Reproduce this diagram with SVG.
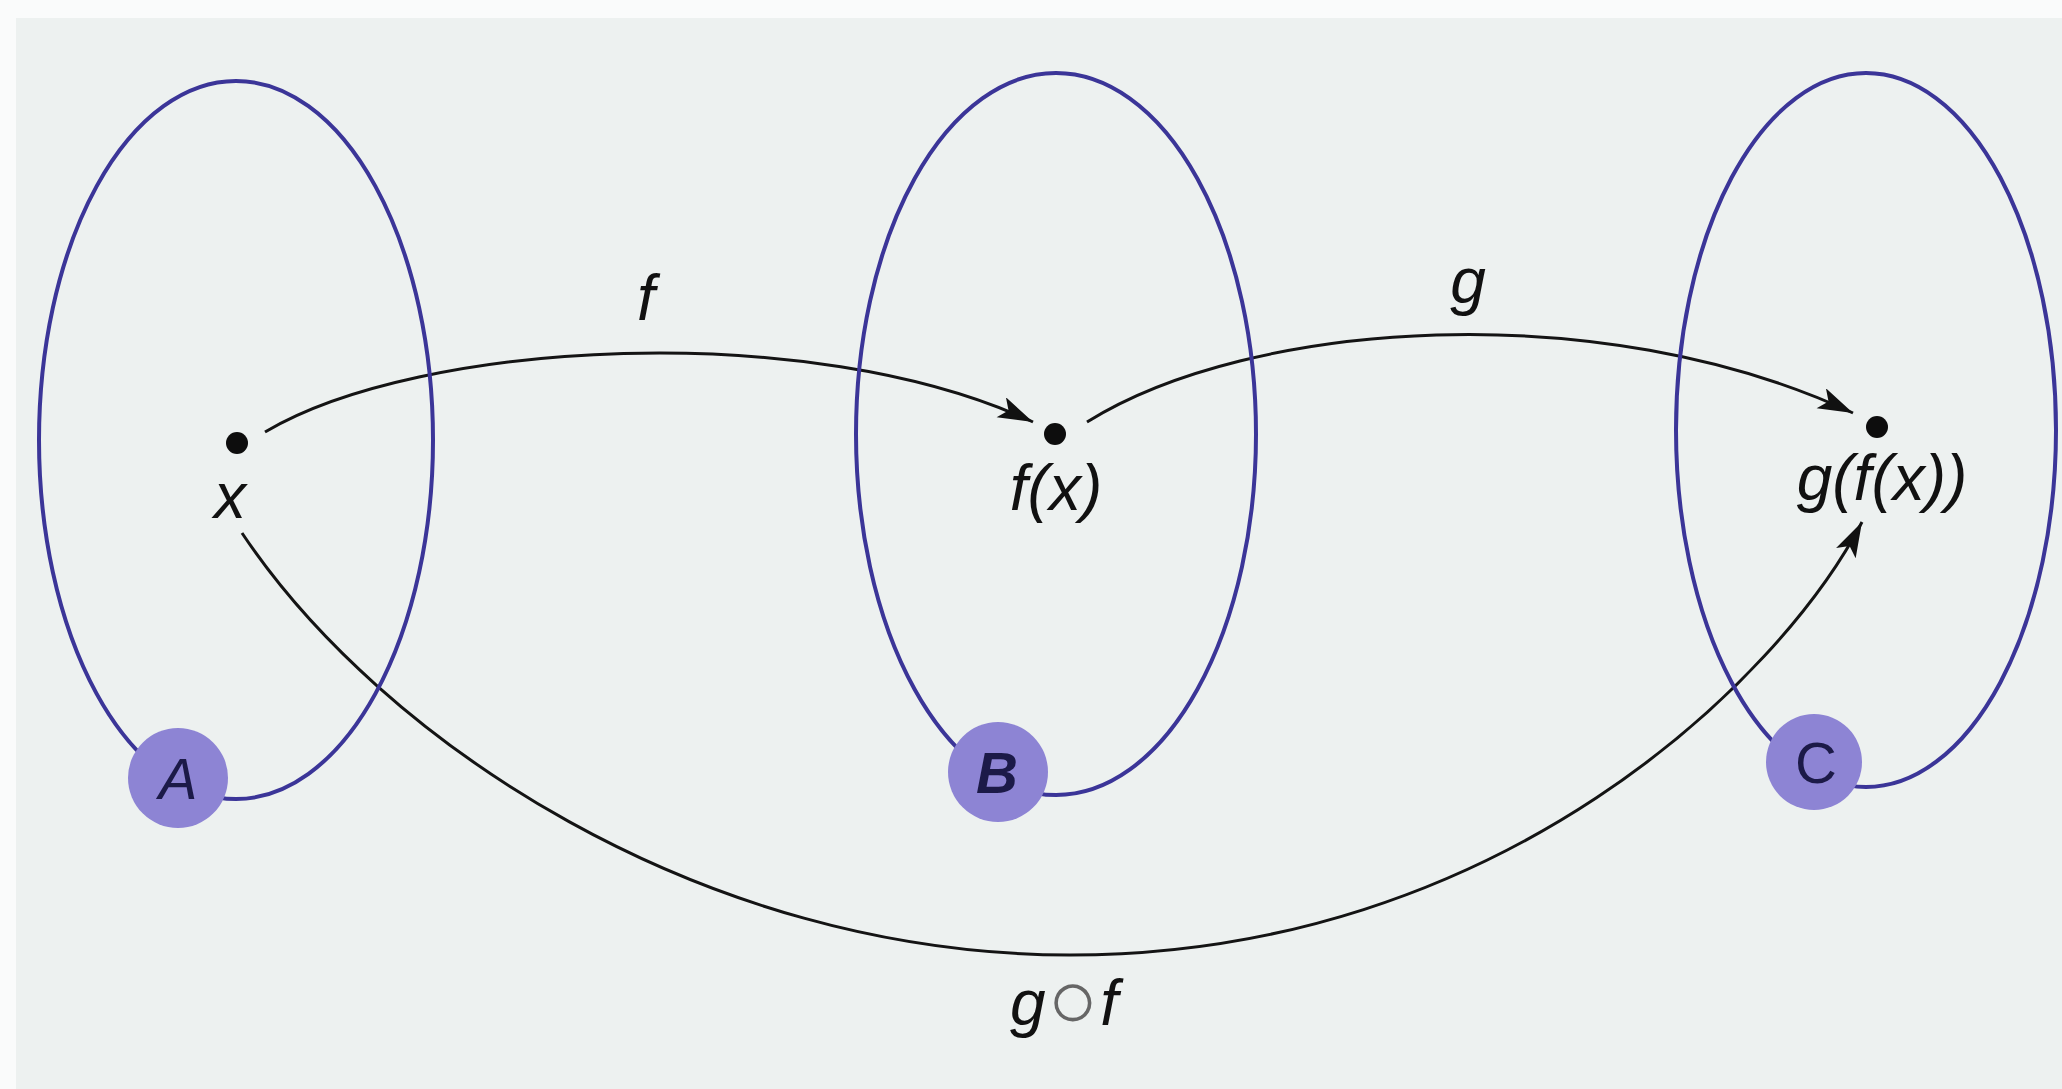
<svg xmlns="http://www.w3.org/2000/svg" width="2062" height="1089" viewBox="0 0 2062 1089">
  <style>
    .set { fill: none; stroke: #3b3598; stroke-width: 4; }
    .badge { fill: #8d84d4; }
    .blabel { font-family: "Liberation Sans", Arial, sans-serif; font-size: 58px; fill: #1c1a48; text-anchor: middle; }
    .lbl { font-family: "Liberation Sans", Arial, sans-serif; font-style: italic; font-size: 64px; fill: #111; text-anchor: middle; }
    .dot { fill: #0d0d0d; }
    .conn { fill: none; stroke: #141414; stroke-width: 3; }
  </style>
  <defs>
    <marker id="arrow" markerUnits="userSpaceOnUse" markerWidth="38" markerHeight="24" refX="35" refY="11" orient="auto">
      <path d="M0,0 L35,11 L0,22 L8,11 z" fill="#111"/>
    </marker>
  </defs>
  <rect x="0" y="0" width="2062" height="1089" fill="#fafbfb"/>
  <rect x="16" y="18" width="2046" height="1071" fill="#edf1f0"/>

  <g id="connectors">
    <path class="conn" d="M265,432 C420,340 810,318 1033,422" marker-end="url(#arrow)"/>
    <path class="conn" d="M1087,422 C1250,320 1600,295 1853,413" marker-end="url(#arrow)"/>
    <path class="conn" d="M242,533 C380,740 700,955 1070,955 C1500,955 1780,680 1862,522" marker-end="url(#arrow)"/>
    <text class="lbl" x="646" y="320">f</text>
    <text class="lbl" x="1468" y="303">g</text>
    <text class="lbl" x="1064" y="1025"><tspan>g</tspan><tspan font-style="normal" fill="#666" font-size="84" dx="2" dy="3">○</tspan><tspan dx="2" dy="-3">f</tspan></text>
  </g>

  <g id="set-A">
    <ellipse class="set" cx="236" cy="440" rx="197" ry="359"/>
    <circle class="badge" cx="178" cy="778" r="50"/>
    <text class="blabel" x="178" y="799" font-style="italic">A</text>
  </g>
  <g id="set-B">
    <ellipse class="set" cx="1056" cy="434" rx="200" ry="361"/>
    <circle class="badge" cx="998" cy="772" r="50"/>
    <text class="blabel" x="997" y="793" font-style="italic" font-weight="bold">B</text>
  </g>
  <g id="set-C">
    <ellipse class="set" cx="1866" cy="430" rx="190" ry="357"/>
    <circle class="badge" cx="1814" cy="762" r="48"/>
    <text class="blabel" x="1816" y="783">C</text>
  </g>

  <g id="point-x">
    <circle class="dot" cx="237" cy="443" r="11"/>
    <text class="lbl" x="230" y="518">x</text>
  </g>
  <g id="point-fx">
    <circle class="dot" cx="1055" cy="434" r="11"/>
    <text class="lbl" x="1056" y="510">f(x)</text>
  </g>
  <g id="point-gfx">
    <circle class="dot" cx="1877" cy="427" r="11"/>
    <text class="lbl" x="1882" y="500">g(f(x))</text>
  </g>
</svg>
